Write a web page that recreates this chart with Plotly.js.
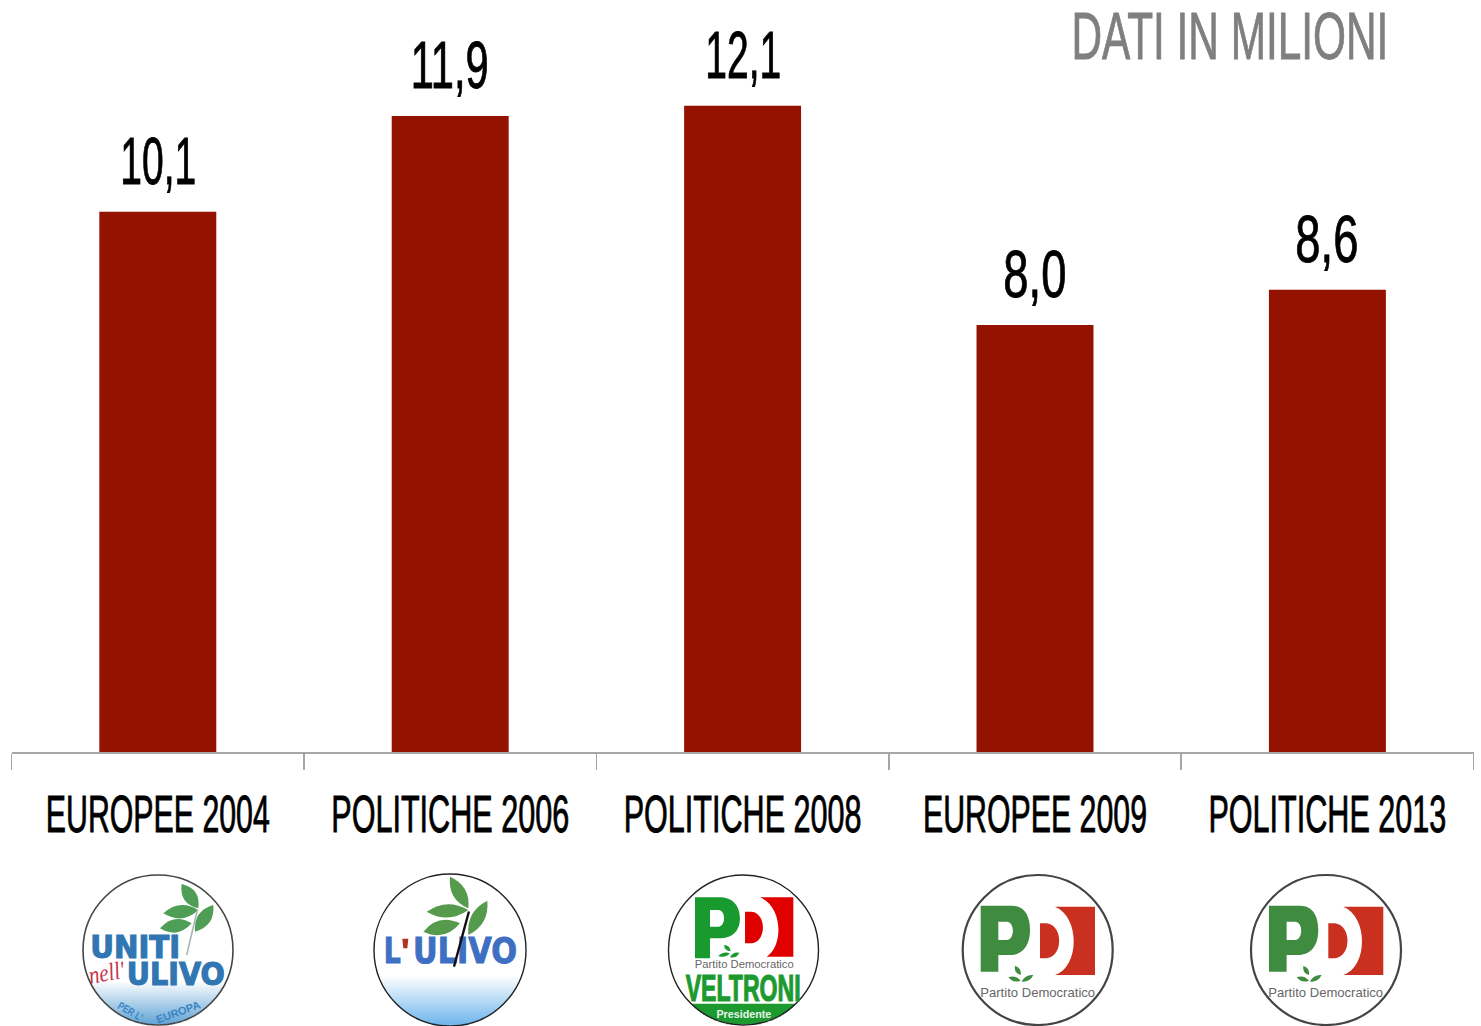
<!DOCTYPE html>
<html><head><meta charset="utf-8">
<script src="https://cdn.plot.ly/plotly-3.0.1.min.js"></script>
<style>html,body{margin:0;padding:0;background:#fff;overflow:hidden}#c{width:1481px;height:1026px}</style>
</head><body><div id="c"></div>
<script>
const categories = ["EUROPEE 2004","POLITICHE 2006","POLITICHE 2008","EUROPEE 2009","POLITICHE 2013"];
const votes = [10.1,11.89,12.08,7.98,8.64];
const voteLabels = ["10,1","11,9","12,1","8,0","8,6"];
const chartNote = "DATI IN MILIONI";

const W=1481,H=1026;
const labelFont="Liberation Sans";
const shapes=[],annotations=[],fit=[],heavy=[];
const px=x=>x/W, py=y=>1-y/H;

function pth(d,ox,oy,k){let i=0;return d.replace(/-?\d+(\.\d+)?/g,n=>{const v=+n;const o=(i++%2===0)?(ox+v*k)/W:1-(oy+v*k)/H;return o.toFixed(5);});}
function addPath(d,ox,oy,color){shapes.push({type:'path',xref:'paper',yref:'paper',path:pth(d,ox,oy,1/3),fillcolor:color,line:{width:0},layer:'above'});}
function leaf(ax,ay,bx,by,w,ox,oy,color){
  const mx=(ax+bx)/2,my=(ay+by)/2,dx=bx-ax,dy=by-ay,l=Math.hypot(dx,dy),nx=-dy/l*w*2,ny=dx/l*w*2;
  addPath(`M ${ax} ${ay} Q ${mx+nx} ${my+ny} ${bx} ${by} Q ${mx-nx} ${my-ny} ${ax} ${ay} Z`,ox,oy,color);
}
function zline(ax,ay,bx,by,ox,oy,color,width){
  shapes.push({type:'line',xref:'paper',yref:'paper',layer:'above',x0:px(ox+ax/3),y0:py(oy+ay/3),x1:px(ox+bx/3),y1:py(oy+by/3),line:{color,width}});
}
function disc(cx,cy,r,fill,line,width){
  shapes.push({type:'circle',xref:'paper',yref:'paper',layer:'above',x0:px(cx-r),x1:px(cx+r),y0:py(cy+r),y1:py(cy-r),fillcolor:fill,line:{color:line,width}});
}
function lerp(a,b,t){return 'rgb('+a.map((v,i)=>Math.round(v+(b[i]-v)*t)).join(',')+')';}
function bands(cx,cy,r,y0,y1,c0,c1){
  for(let y=y0;y<y1;y+=2){
    const m=y+1;const d=Math.abs(m-cy)>=r?0:Math.sqrt(r*r-(m-cy)*(m-cy));
    if(d<=0)continue;
    shapes.push({type:'line',xref:'paper',yref:'paper',layer:'above',x0:px(cx-d),x1:px(cx+d),y0:py(m),y1:py(m),line:{color:lerp(c0,c1,(y-y0)/(y1-y0)),width:2.3}});
  }
}
function text(t,cx,cy,size,color,width,o={}){
  annotations.push({xref:'paper',yref:'paper',x:px(cx),y:py(cy),xanchor:'center',yanchor:'middle',showarrow:false,text:t,textangle:o.angle||0,
    font:{family:o.family||labelFont,size,color,weight:o.weight||'normal',style:o.style||'normal'}});
  fit.push(width);heavy.push(o.stroke?[color,o.stroke]:null);
}

/* logo 1: Uniti nell'Ulivo */
(function(){
  const cx=158,cy=950,r=75,ox=60,oy=860,g='#4f9e55';
  disc(cx,cy,r,'#fff','#fff',0);
  bands(cx,cy,r,980,1026,[255,255,255],[88,158,210]);
  leaf(415,145,365,72,20,ox,oy,g);leaf(415,150,310,160,20,ox,oy,g);leaf(395,190,300,205,20,ox,oy,g);leaf(405,215,460,135,20,ox,oy,g);
  zline(412,150,380,285,ox,oy,'#aab0b0',1.5);
  disc(cx,cy,r,'rgba(0,0,0,0)','#444',1.6);
  text('UNITI',135,946.5,32,'#2f76b2',90,{family:'DejaVu Sans',weight:'bold',stroke:1.2});
  text('ULIVO',176,973.5,32,'#2f76b2',98,{family:'DejaVu Sans',weight:'bold',stroke:1.2});
  text("nell'",106,972,25,'#c5344c',36,{family:'Liberation Serif',style:'italic',angle:-10});
  text("PER L'",130,1011,11,'#3a85c4',27,{angle:30,weight:'bold'});
  text('EUROPA',178,1012,11,'#3a85c4',46,{angle:-20,weight:'bold'});
})();

/* logo 2: L'Ulivo */
(function(){
  const cx=450,cy=950,r=76,ox=60,oy=860,g='#559a4d';
  disc(cx,cy,r,'#fff','#fff',0);
  bands(cx,cy,r,975,1026,[255,255,255],[104,178,236]);
  leaf(1225,145,1170,50,20,ox,oy,g);leaf(1225,150,1100,155,20,ox,oy,g);leaf(1200,190,1090,215,22,ox,oy,g);leaf(1225,225,1282,122,20,ox,oy,g);
  addPath('M 1027 236 L 1045 236 L 1042 265 L 1030 265 Z',ox,oy,'#b5321e');
  disc(cx,cy,r,'rgba(0,0,0,0)','#222',1.4);
  text('L',391.5,951,35,'#3e70c4',17,{family:'DejaVu Sans',weight:'bold',stroke:1});
  text('ULIVO',465,951,35,'#3e6fc2',104,{family:'DejaVu Sans',weight:'bold',stroke:1});
  annotations.push({xref:'paper',yref:'paper',axref:'paper',ayref:'paper',x:px(ox+1182/3),y:py(oy+320/3),ax:px(ox+1228/3),ay:py(oy+150/3),showarrow:true,arrowhead:0,arrowwidth:2.4,arrowcolor:'#111',text:''});
  fit.push(0);heavy.push(null);
})();

/* logo 3: PD Veltroni */
(function(){
  const cx=743.5,cy=950,r=75,ox=650,oy=860,gr='#189a2e',re='#e00000';
  disc(cx,cy,r,'#fff','#fff',0);
  bands(cx,cy,r,1004,1026,[28,154,48],[28,154,48]);
  addPath('M 135 112 L 210 112 C 250 112 270 140 270 175 C 270 215 245 235 210 235 L 180 235 L 180 295 L 135 295 Z M 180 150 L 205 150 C 228 150 228 200 205 200 L 180 200 Z',ox,oy,gr);
  addPath('M 330 112 L 430 112 L 430 290 L 350 290 C 400 260 400 140 330 112 Z',ox,oy,re);
  addPath('M 285 155 L 305 155 C 350 160 350 245 305 250 L 285 250 Z',ox,oy,re);
  leaf(222,255,242,274,6,ox,oy,gr);leaf(205,288,240,280,6,ox,oy,gr);leaf(240,292,268,278,6,ox,oy,gr);
  disc(cx,cy,r,'rgba(0,0,0,0)','#222',1.4);
  text('Partito Democratico',744.5,964,11,'#666',99);
  text('VELTRONI',742.5,988.5,37,'#1c9a30',115,{weight:'bold',stroke:1.2});
  text('Presidente',744,1014,10.5,'#e8f5e8',55,{weight:'bold'});
})();

/* logos 4 and 5: PD */
[650,938.3].forEach(function(ox){
  const oy=860,cx=ox+387.7,cy=950,r=75,gr='#3f8b3f',re='#c9301f';
  disc(cx,cy,r,'#fff','#444',2.2);
  addPath('M 992 137 L 1085 137 C 1125 137 1140 170 1140 210 C 1140 260 1115 285 1080 285 L 1045 285 L 1045 335 L 992 335 Z M 1045 185 L 1070 185 C 1095 185 1095 240 1070 240 L 1045 240 Z',ox,oy,gr);
  addPath('M 1215 140 L 1335 140 L 1335 345 L 1215 345 C 1290 320 1290 170 1215 140 Z',ox,oy,re);
  addPath('M 1170 190 L 1190 190 C 1240 195 1240 290 1190 295 L 1170 295 Z',ox,oy,re);
  leaf(1095,318,1112,345,7,ox,oy,gr);leaf(1075,352,1112,362,7,ox,oy,gr);leaf(1115,365,1150,345,7,ox,oy,gr);
  text('Partito Democratico',cx,993,12,'#666',115);
});

/* note and value labels */
text(chartNote,1229.5,36,66,'#7f7f7f',317,{stroke:0.9});
const valueWidths=[76,78,76,63,63];
votes.forEach((v,i)=>{
  annotations.push({xref:'x',yref:'y',x:categories[i],y:v,xanchor:'center',yanchor:'bottom',yshift:12,showarrow:false,text:voteLabels[i],font:{family:labelFont,size:66,color:'#000'}});
  fit.push(valueWidths[i]);heavy.push(['#000',0.9]);
});

const trace={type:'bar',x:categories,y:votes,marker:{color:'#931300',line:{width:0}},hoverinfo:'skip'};
const layout={width:W,height:H,margin:{l:0,r:0,t:0,b:0,pad:0},paper_bgcolor:'#fff',plot_bgcolor:'#fff',showlegend:false,bargap:0.6,
  xaxis:{domain:[11.6/W,1473.6/W],type:'category',categoryorder:'array',categoryarray:categories,tickson:'boundaries',ticks:'outside',ticklen:16,tickwidth:1.5,tickcolor:'#a6a6a6',
    showline:true,linecolor:'#a6a6a6',linewidth:1.5,showgrid:false,zeroline:false,tickangle:0,tickfont:{family:labelFont,size:52,color:'#000'},ticklabelstandoff:16,automargin:false},
  yaxis:{domain:[(H-752)/H,1],range:[0,752/53.5],visible:false,fixedrange:true},
  shapes,annotations};
function squeeze(t,width){
  const f=width/t.getComputedTextLength();
  const x=parseFloat(t.getAttribute('x'))||0;
  const old=t.getAttribute('transform')||'';
  t.setAttribute('transform',`${old} translate(${x},0) scale(${f.toFixed(4)},1) translate(${-x},0)`);
}
Plotly.newPlot('c',[trace],layout,{staticPlot:true,displayModeBar:false}).then(gd=>{
  gd.querySelectorAll('.xtick text').forEach(t=>{
    squeeze(t,t.textContent.startsWith('EUROPEE')?224:238);
    t.style.stroke='#000';t.style.strokeWidth='0.9px';
  });
  gd.querySelectorAll('.annotation').forEach(g=>{
    const i=+g.getAttribute('data-index');const t=g.querySelector('text');
    if(t&&fit[i]){
      squeeze(t,fit[i]);
      if(heavy[i]){t.style.stroke=heavy[i][0];t.style.strokeWidth=heavy[i][1]+'px';}
    }
  });
});
</script></body></html>
